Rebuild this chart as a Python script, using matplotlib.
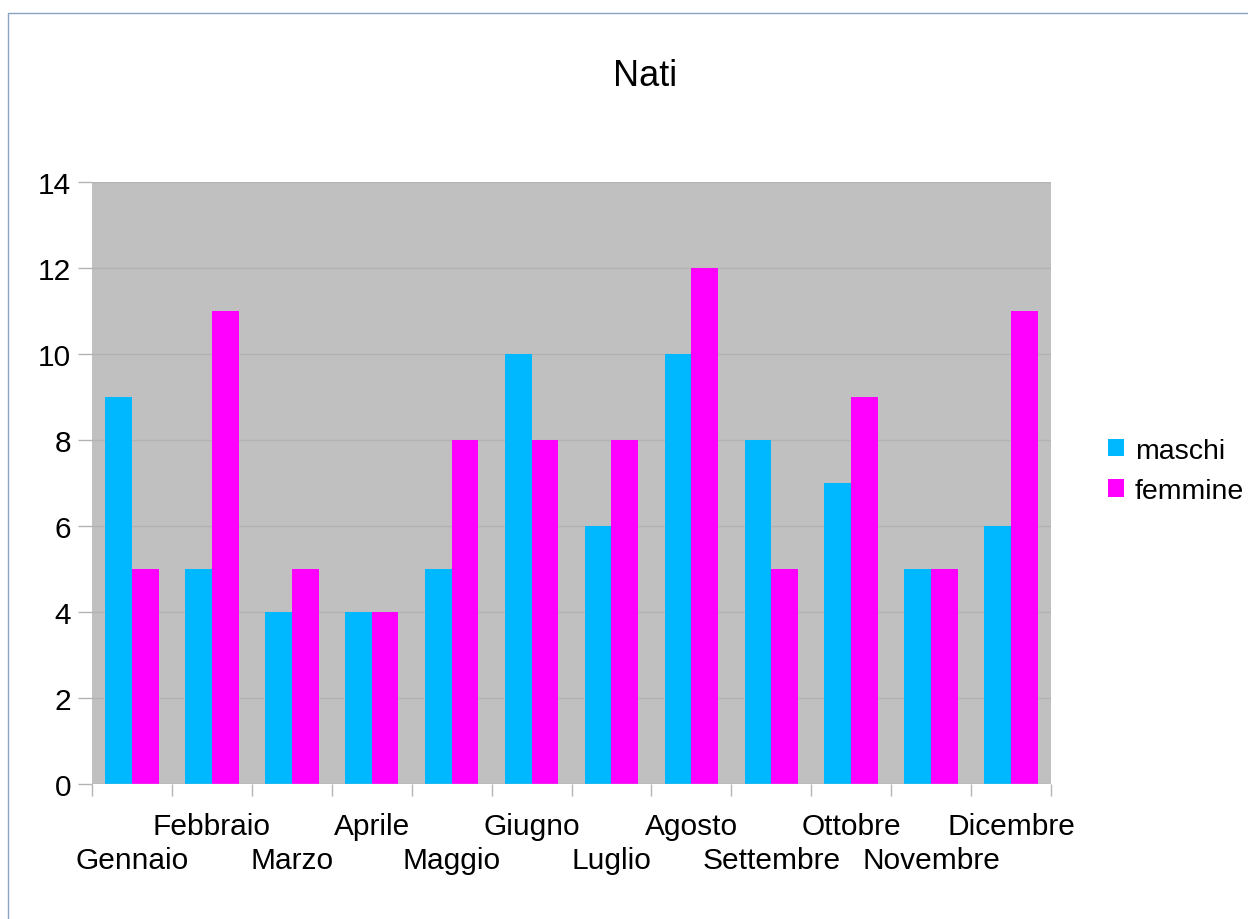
import numpy as np
import matplotlib
matplotlib.use("Agg")
import matplotlib.pyplot as plt
from matplotlib.patches import Rectangle, Patch

mesi = ["Gennaio", "Febbraio", "Marzo", "Aprile", "Maggio", "Giugno",
        "Luglio", "Agosto", "Settembre", "Ottobre", "Novembre", "Dicembre"]
maschi = [9, 5, 4, 4, 5, 10, 6, 10, 8, 7, 5, 6]
femmine = [5, 11, 5, 4, 8, 8, 8, 12, 5, 9, 5, 11]
y_ticks = [0, 2, 4, 6, 8, 10, 12, 14]

plt.rcParams['font.family'] = ['Liberation Sans', 'DejaVu Sans']

col_m = '#00b8ff'
col_f = '#ff00ff'
grid_col = '#b3b3b3'

fig = plt.figure(figsize=(12.48, 9.2), dpi=100)
ax = fig.add_axes([92 / 1248, 1 - 785 / 920, (1051 - 92) / 1248, (785 - 183) / 920])
ax.set_facecolor('#c0c0c0')

x = np.arange(len(mesi))
w = 0.335
ax.bar(x - w / 2, maschi, width=w, color=col_m, zorder=3)
ax.bar(x + w / 2, femmine, width=w, color=col_f, zorder=3)

ax.set_xlim(-0.5, len(mesi) - 0.5)
ax.set_ylim(0, 14)
ax.set_yticks(y_ticks)
ax.yaxis.grid(True, color=grid_col, linewidth=1, zorder=1)
ax.tick_params(axis='y', labelsize=21.5, length=10, color=grid_col, width=1, pad=5)

# category boundaries as tick marks, labels placed on two staggered rows
ax.set_xticks(np.arange(len(mesi) + 1) - 0.5)
ax.set_xticklabels([])
ax.tick_params(axis='x', length=8.6, color=grid_col, width=1)
for i, m in enumerate(mesi):
    off = -55 if i % 2 == 0 else -30
    ax.annotate(m, xy=(i, 0), xycoords=('data', 'axes fraction'),
                xytext=(0, off), textcoords='offset points',
                ha='center', va='center', fontsize=21.5)

for s in ax.spines.values():
    s.set_visible(False)
ax.axhline(0, color=grid_col, linewidth=1, zorder=4)

fig.text(645 / 1248, 1 - 77 / 920, "Nati", ha='center', va='center', fontsize=26)

handles = [Patch(facecolor=col_m, label='maschi'), Patch(facecolor=col_f, label='femmine')]
fig.legend(handles=handles, loc='center left', bbox_to_anchor=(1108 / 1248, 1 - 472 / 920),
           frameon=False, fontsize=20.5, handlelength=0.55, handleheight=0.55,
           handletextpad=0.4, labelspacing=0.5, borderaxespad=0, borderpad=0)

# outer border, only top and left edges fall inside the image
fig.patches.append(Rectangle((7.5 / 1248, -0.1), 1.2, 1.1 - 13.5 / 920, transform=fig.transFigure,
                             fill=False, edgecolor='#8aa3c2', linewidth=1))

fig.savefig("out.png", dpi=100)
plt.close()
